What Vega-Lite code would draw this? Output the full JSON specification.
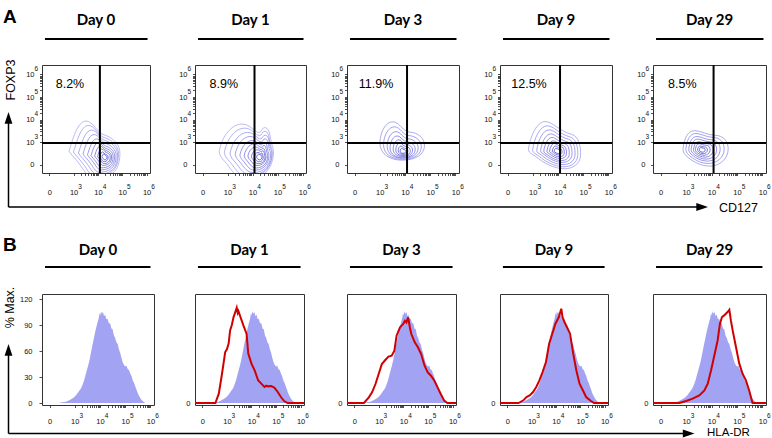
{
  "$schema": "https://vega.github.io/schema/vega-lite/v6.json",
  "background": "white",
  "autosize": {"type": "pad"},
  "padding": {"left": 2, "top": 7, "right": 2, "bottom": 2},
  "columns": 5,
  "spacing": {"row": 118, "column": 41},
  "align": {"row": "all", "column": "none"},
  "bounds": "flush",
  "config": {
    "view": {"stroke": "#333333", "strokeWidth": 1},
    "axis": {"grid": false, "domain": false, "labelFont": "Liberation Sans", "labelFontSize": 7.5, "labelColor": "#111111", "tickColor": "#222222", "tickWidth": 0.8},
    "text": {"font": "Liberation Sans", "color": "black"}
  },
  "datasets": {
    "panels": [
      {"day": "Day 0", "pct": "8.2%"},
      {"day": "Day 1", "pct": "8.9%"},
      {"day": "Day 3", "pct": "11.9%"},
      {"day": "Day 9", "pct": "12.5%"},
      {"day": "Day 29", "pct": "8.5%"}
    ],
    "contours": [
      {"day": "Day 0", "level": 1, "cx": 3.88, "cy": 2.61},
      {"day": "Day 0", "level": 2, "cx": 3.94, "cy": 2.57},
      {"day": "Day 0", "level": 3, "cx": 4.02, "cy": 2.52},
      {"day": "Day 0", "level": 4, "cx": 4.08, "cy": 2.48},
      {"day": "Day 0", "level": 5, "cx": 4.14, "cy": 2.44},
      {"day": "Day 0", "level": 6, "cx": 4.18, "cy": 2.41},
      {"day": "Day 0", "level": 7, "cx": 4.22, "cy": 2.39},
      {"day": "Day 0", "level": 8, "cx": 4.25, "cy": 2.37},
      {"day": "Day 0", "level": 9, "cx": 4.25, "cy": 2.35},
      {"day": "Day 0", "level": 10, "cx": 4.27, "cy": 2.35},
      {"day": "Day 1", "level": 1, "cx": 3.76, "cy": 2.61},
      {"day": "Day 1", "level": 2, "cx": 3.84, "cy": 2.57},
      {"day": "Day 1", "level": 3, "cx": 3.94, "cy": 2.52},
      {"day": "Day 1", "level": 4, "cx": 4.02, "cy": 2.48},
      {"day": "Day 1", "level": 5, "cx": 4.08, "cy": 2.44},
      {"day": "Day 1", "level": 6, "cx": 4.14, "cy": 2.41},
      {"day": "Day 1", "level": 7, "cx": 4.18, "cy": 2.39},
      {"day": "Day 1", "level": 8, "cx": 4.23, "cy": 2.37},
      {"day": "Day 1", "level": 9, "cx": 4.25, "cy": 2.35},
      {"day": "Day 1", "level": 10, "cx": 4.27, "cy": 2.35},
      {"day": "Day 3", "level": 3, "cx": 3.88, "cy": 2.97},
      {"day": "Day 3", "level": 4, "cx": 3.89, "cy": 2.89},
      {"day": "Day 3", "level": 5, "cx": 3.9, "cy": 2.82},
      {"day": "Day 3", "level": 6, "cx": 3.9, "cy": 2.75},
      {"day": "Day 3", "level": 7, "cx": 3.91, "cy": 2.7},
      {"day": "Day 3", "level": 8, "cx": 3.92, "cy": 2.66},
      {"day": "Day 3", "level": 9, "cx": 3.92, "cy": 2.63},
      {"day": "Day 3", "level": 10, "cx": 3.92, "cy": 2.61},
      {"day": "Day 9", "level": 2, "cx": 3.84, "cy": 2.79},
      {"day": "Day 9", "level": 3, "cx": 3.87, "cy": 2.75},
      {"day": "Day 9", "level": 4, "cx": 3.9, "cy": 2.72},
      {"day": "Day 9", "level": 5, "cx": 3.92, "cy": 2.69},
      {"day": "Day 9", "level": 6, "cx": 3.93, "cy": 2.66},
      {"day": "Day 9", "level": 7, "cx": 3.94, "cy": 2.64},
      {"day": "Day 9", "level": 8, "cx": 3.95, "cy": 2.63},
      {"day": "Day 9", "level": 9, "cx": 3.96, "cy": 2.62},
      {"day": "Day 9", "level": 10, "cx": 3.96, "cy": 2.61},
      {"day": "Day 29", "level": 3, "cx": 3.75, "cy": 2.7},
      {"day": "Day 29", "level": 4, "cx": 3.73, "cy": 2.7},
      {"day": "Day 29", "level": 5, "cx": 3.71, "cy": 2.69},
      {"day": "Day 29", "level": 6, "cx": 3.69, "cy": 2.68},
      {"day": "Day 29", "level": 7, "cx": 3.67, "cy": 2.67},
      {"day": "Day 29", "level": 8, "cx": 3.65, "cy": 2.67},
      {"day": "Day 29", "level": 9, "cx": 3.64, "cy": 2.66},
      {"day": "Day 29", "level": 10, "cx": 3.63, "cy": 2.66}
    ],
    "hist": [
      {"series": "Day 0", "x": 2.35, "y": 0}, {"series": "Day 0", "x": 2.5, "y": 0.8}, {"series": "Day 0", "x": 2.65, "y": 1.5}, {"series": "Day 0", "x": 2.8, "y": 3.5},
      {"series": "Day 0", "x": 2.95, "y": 6}, {"series": "Day 0", "x": 3.05, "y": 9}, {"series": "Day 0", "x": 3.15, "y": 13}, {"series": "Day 0", "x": 3.25, "y": 17},
      {"series": "Day 0", "x": 3.32, "y": 22}, {"series": "Day 0", "x": 3.38, "y": 27}, {"series": "Day 0", "x": 3.45, "y": 35}, {"series": "Day 0", "x": 3.52, "y": 42},
      {"series": "Day 0", "x": 3.58, "y": 49}, {"series": "Day 0", "x": 3.64, "y": 58}, {"series": "Day 0", "x": 3.7, "y": 67}, {"series": "Day 0", "x": 3.76, "y": 75},
      {"series": "Day 0", "x": 3.8, "y": 81}, {"series": "Day 0", "x": 3.85, "y": 87}, {"series": "Day 0", "x": 3.9, "y": 93}, {"series": "Day 0", "x": 3.95, "y": 98},
      {"series": "Day 0", "x": 3.98, "y": 104}, {"series": "Day 0", "x": 4.01, "y": 101}, {"series": "Day 0", "x": 4.04, "y": 106}, {"series": "Day 0", "x": 4.08, "y": 103},
      {"series": "Day 0", "x": 4.12, "y": 105}, {"series": "Day 0", "x": 4.16, "y": 100}, {"series": "Day 0", "x": 4.2, "y": 102}, {"series": "Day 0", "x": 4.25, "y": 97},
      {"series": "Day 0", "x": 4.3, "y": 97}, {"series": "Day 0", "x": 4.35, "y": 92}, {"series": "Day 0", "x": 4.4, "y": 92}, {"series": "Day 0", "x": 4.45, "y": 86},
      {"series": "Day 0", "x": 4.5, "y": 85}, {"series": "Day 0", "x": 4.55, "y": 78}, {"series": "Day 0", "x": 4.6, "y": 75}, {"series": "Day 0", "x": 4.65, "y": 70},
      {"series": "Day 0", "x": 4.7, "y": 68}, {"series": "Day 0", "x": 4.75, "y": 62}, {"series": "Day 0", "x": 4.8, "y": 58}, {"series": "Day 0", "x": 4.85, "y": 52},
      {"series": "Day 0", "x": 4.9, "y": 47}, {"series": "Day 0", "x": 4.95, "y": 44}, {"series": "Day 0", "x": 5.0, "y": 42}, {"series": "Day 0", "x": 5.05, "y": 43},
      {"series": "Day 0", "x": 5.1, "y": 39}, {"series": "Day 0", "x": 5.15, "y": 38}, {"series": "Day 0", "x": 5.2, "y": 34}, {"series": "Day 0", "x": 5.25, "y": 31},
      {"series": "Day 0", "x": 5.3, "y": 26}, {"series": "Day 0", "x": 5.35, "y": 23}, {"series": "Day 0", "x": 5.4, "y": 19}, {"series": "Day 0", "x": 5.45, "y": 15},
      {"series": "Day 0", "x": 5.5, "y": 11}, {"series": "Day 0", "x": 5.55, "y": 8}, {"series": "Day 0", "x": 5.6, "y": 5.5}, {"series": "Day 0", "x": 5.65, "y": 3.5},
      {"series": "Day 0", "x": 5.7, "y": 2}, {"series": "Day 0", "x": 5.75, "y": 0.8}, {"series": "Day 0", "x": 5.8, "y": 0},

      {"series": "Day 1", "x": 1.7, "y": 0}, {"series": "Day 1", "x": 2.53, "y": 0}, {"series": "Day 1", "x": 2.67, "y": 10.8}, {"series": "Day 1", "x": 2.8, "y": 33.8},
      {"series": "Day 1", "x": 2.93, "y": 58.8}, {"series": "Day 1", "x": 3.0, "y": 62}, {"series": "Day 1", "x": 3.07, "y": 68.5}, {"series": "Day 1", "x": 3.13, "y": 83.8},
      {"series": "Day 1", "x": 3.2, "y": 90}, {"series": "Day 1", "x": 3.27, "y": 99.2}, {"series": "Day 1", "x": 3.33, "y": 104}, {"series": "Day 1", "x": 3.4, "y": 110},
      {"series": "Day 1", "x": 3.44, "y": 104}, {"series": "Day 1", "x": 3.47, "y": 106}, {"series": "Day 1", "x": 3.53, "y": 101}, {"series": "Day 1", "x": 3.6, "y": 95.4},
      {"series": "Day 1", "x": 3.67, "y": 89.6}, {"series": "Day 1", "x": 3.8, "y": 80}, {"series": "Day 1", "x": 3.87, "y": 57}, {"series": "Day 1", "x": 4.0, "y": 45.4},
      {"series": "Day 1", "x": 4.13, "y": 37.7}, {"series": "Day 1", "x": 4.27, "y": 26.2}, {"series": "Day 1", "x": 4.4, "y": 22.3}, {"series": "Day 1", "x": 4.53, "y": 18.5},
      {"series": "Day 1", "x": 4.6, "y": 20}, {"series": "Day 1", "x": 4.67, "y": 19.2}, {"series": "Day 1", "x": 4.8, "y": 19.5}, {"series": "Day 1", "x": 4.93, "y": 17.7},
      {"series": "Day 1", "x": 5.07, "y": 12.7}, {"series": "Day 1", "x": 5.2, "y": 6.9}, {"series": "Day 1", "x": 5.33, "y": 2.3}, {"series": "Day 1", "x": 5.47, "y": 0},
      {"series": "Day 1", "x": 6.14, "y": 0},

      {"series": "Day 3", "x": 1.7, "y": 0}, {"series": "Day 3", "x": 2.39, "y": 0}, {"series": "Day 3", "x": 2.59, "y": 6.5}, {"series": "Day 3", "x": 2.72, "y": 12.3},
      {"series": "Day 3", "x": 2.86, "y": 21.9}, {"series": "Day 3", "x": 2.99, "y": 33.5}, {"series": "Day 3", "x": 3.12, "y": 45}, {"series": "Day 3", "x": 3.26, "y": 49.6},
      {"series": "Day 3", "x": 3.39, "y": 53.5}, {"series": "Day 3", "x": 3.52, "y": 54.6}, {"series": "Day 3", "x": 3.63, "y": 60.4}, {"series": "Day 3", "x": 3.72, "y": 77.7},
      {"series": "Day 3", "x": 3.86, "y": 87.4}, {"series": "Day 3", "x": 3.99, "y": 91.2}, {"series": "Day 3", "x": 4.06, "y": 95}, {"series": "Day 3", "x": 4.12, "y": 93},
      {"series": "Day 3", "x": 4.19, "y": 98.9}, {"series": "Day 3", "x": 4.26, "y": 87.4}, {"series": "Day 3", "x": 4.32, "y": 79.6}, {"series": "Day 3", "x": 4.46, "y": 70},
      {"series": "Day 3", "x": 4.59, "y": 64.3}, {"series": "Day 3", "x": 4.72, "y": 56.5}, {"series": "Day 3", "x": 4.86, "y": 43}, {"series": "Day 3", "x": 4.99, "y": 35.4},
      {"series": "Day 3", "x": 5.12, "y": 31.5}, {"series": "Day 3", "x": 5.26, "y": 25.7}, {"series": "Day 3", "x": 5.39, "y": 18.1}, {"series": "Day 3", "x": 5.52, "y": 10.4},
      {"series": "Day 3", "x": 5.66, "y": 2.7}, {"series": "Day 3", "x": 5.79, "y": 0}, {"series": "Day 3", "x": 6.14, "y": 0},

      {"series": "Day 9", "x": 1.7, "y": 0}, {"series": "Day 9", "x": 2.46, "y": 0}, {"series": "Day 9", "x": 2.66, "y": 3.1}, {"series": "Day 9", "x": 2.79, "y": 6.9},
      {"series": "Day 9", "x": 2.92, "y": 8.8}, {"series": "Day 9", "x": 3.06, "y": 12.7}, {"series": "Day 9", "x": 3.19, "y": 18.5}, {"series": "Day 9", "x": 3.32, "y": 26.1},
      {"series": "Day 9", "x": 3.45, "y": 35.8}, {"series": "Day 9", "x": 3.59, "y": 47.3}, {"series": "Day 9", "x": 3.72, "y": 68.4}, {"series": "Day 9", "x": 3.85, "y": 80},
      {"series": "Day 9", "x": 3.98, "y": 91.5}, {"series": "Day 9", "x": 4.12, "y": 99.2}, {"series": "Day 9", "x": 4.18, "y": 105}, {"series": "Day 9", "x": 4.22, "y": 108.8},
      {"series": "Day 9", "x": 4.27, "y": 99.2}, {"series": "Day 9", "x": 4.35, "y": 93.5}, {"series": "Day 9", "x": 4.45, "y": 87.7}, {"series": "Day 9", "x": 4.58, "y": 80},
      {"series": "Day 9", "x": 4.71, "y": 56.9}, {"series": "Day 9", "x": 4.84, "y": 37.6}, {"series": "Day 9", "x": 4.97, "y": 22.3}, {"series": "Day 9", "x": 5.11, "y": 14.5},
      {"series": "Day 9", "x": 5.24, "y": 6.9}, {"series": "Day 9", "x": 5.44, "y": 2.3}, {"series": "Day 9", "x": 5.57, "y": 0}, {"series": "Day 9", "x": 6.14, "y": 0},

      {"series": "Day 29", "x": 1.7, "y": 0}, {"series": "Day 29", "x": 2.74, "y": 0}, {"series": "Day 29", "x": 3.0, "y": 2.3}, {"series": "Day 29", "x": 3.26, "y": 5},
      {"series": "Day 29", "x": 3.52, "y": 8.8}, {"series": "Day 29", "x": 3.72, "y": 14.5}, {"series": "Day 29", "x": 3.85, "y": 22.3}, {"series": "Day 29", "x": 3.98, "y": 37.6},
      {"series": "Day 29", "x": 4.11, "y": 54.9}, {"series": "Day 29", "x": 4.24, "y": 72.2}, {"series": "Day 29", "x": 4.33, "y": 91.5}, {"series": "Day 29", "x": 4.41, "y": 99.2},
      {"series": "Day 29", "x": 4.5, "y": 101.1}, {"series": "Day 29", "x": 4.56, "y": 103}, {"series": "Day 29", "x": 4.63, "y": 105}, {"series": "Day 29", "x": 4.7, "y": 107.7},
      {"series": "Day 29", "x": 4.76, "y": 95.3}, {"series": "Day 29", "x": 4.83, "y": 83.8}, {"series": "Day 29", "x": 4.96, "y": 64.6}, {"series": "Day 29", "x": 5.09, "y": 45.4},
      {"series": "Day 29", "x": 5.22, "y": 33.8}, {"series": "Day 29", "x": 5.35, "y": 26.1}, {"series": "Day 29", "x": 5.48, "y": 14.5}, {"series": "Day 29", "x": 5.61, "y": 0},
      {"series": "Day 29", "x": 6.14, "y": 0}
    ]
  },
  "concat": [
    {
      "width": 108, "height": 108,
      "data": {"name": "panels"},
      "transform": [{"filter": "datum.day == 'Day 0'"}],
      "resolve": {"axis": {"x": "independent", "y": "independent"}},
      "layer": [
        {"data": {"name": "contours"}, "transform": [{"filter": "datum.day == 'Day 0'"}],
         "mark": {"type": "point", "shape": "M -0.87 0 C -0.75 -0.35 -0.6 -1 -0.3 -1 C -0.05 -1 0.05 -0.6 0.33 -0.53 C 0.6 -0.45 0.85 -0.2 0.83 0.1 C 0.82 0.4 0.75 0.6 0.6 0.73 C 0.4 0.9 0.15 0.95 -0.07 0.93 C -0.25 0.9 -0.35 0.65 -0.47 0.5 C -0.6 0.3 -0.8 0.12 -0.87 0 Z", "filled": false, "strokeWidth": 0.75, "opacity": 0.9, "clip": true},
         "encoding": {
           "x": {"field": "cx", "type": "quantitative", "scale": {"domain": [1.7, 6.14], "nice": false, "zero": false}, "axis": {"title": null, "values": [2,3,3.301,3.477,3.602,3.699,3.778,3.845,3.903,3.954,4,4.301,4.477,4.602,4.699,4.778,4.845,4.903,4.954,5,5.301,5.477,5.602,5.699,5.778,5.845,5.903,5.954,6], "labelExpr": "datum.value == 2 ? '0' : indexof([3,4,5,6], datum.value) >= 0 ? '10' : ''", "tickSize": 2.5, "labelPadding": 17, "labelBaseline": "middle", "labelFlush": false, "labelOverlap": false}},
           "y": {"field": "cy", "type": "quantitative", "scale": {"domain": [1.64, 6.42], "nice": false, "zero": false}, "axis": {"title": null, "values": [2,3,3.301,3.477,3.602,3.699,3.778,3.845,3.903,3.954,4,4.301,4.477,4.602,4.699,4.778,4.845,4.903,4.954,5,5.301,5.477,5.602,5.699,5.778,5.845,5.903,5.954,6], "labelExpr": "datum.value == 2 ? '0' : indexof([3,4,5,6], datum.value) >= 0 ? '10' : ''", "tickSize": 2.5, "labelPadding": 5.5, "labelBaseline": "middle", "labelFlush": false, "labelOverlap": false}},
           "size": {"field": "level", "type": "quantitative", "scale": {"type": "linear", "domain": [1,2,3,4,5,6,7,8,9,10], "range": [3600,2809,2116,1521,1024,676,400,225,100,36]}, "legend": null},
           "color": {"field": "level", "type": "quantitative", "scale": {"domain": [1, 10], "range": ["#9d9df0", "#2b2bc4"]}, "legend": null}
         }},
        {"mark": {"type": "rule", "color": "black", "strokeWidth": 2},
         "encoding": {"x": {"datum": 4.08, "type": "quantitative", "scale": {"domain": [1.7, 6.14], "nice": false, "zero": false}, "axis": {"title": null, "orient": "bottom", "values": [3,4,5,6], "labelExpr": "format(datum.value, 'd')", "ticks": false, "tickSize": 0, "labelPadding": 13, "labelBaseline": "middle", "labelOffset": 6, "labelFontSize": 6.5, "labelFlush": false, "labelOverlap": false}}}},
        {"mark": {"type": "rule", "color": "black", "strokeWidth": 2},
         "encoding": {"y": {"datum": 2.97, "type": "quantitative", "scale": {"domain": [1.64, 6.42], "nice": false, "zero": false}, "axis": {"title": null, "orient": "left", "values": [3,4,5,6], "labelExpr": "format(datum.value, 'd')", "ticks": false, "tickSize": 0, "labelPadding": 8, "labelAlign": "left", "labelBaseline": "middle", "labelOffset": -6, "labelFontSize": 6.5, "labelFlush": false, "labelOverlap": false}}}},
        {"mark": {"type": "text", "fontSize": 12.5, "align": "center", "baseline": "middle", "clip": false},
         "encoding": {"x": {"datum": 2.85, "type": "quantitative", "scale": {"domain": [1.7, 6.14], "nice": false, "zero": false}, "axis": null}, "y": {"datum": 5.6, "type": "quantitative", "scale": {"domain": [1.64, 6.42], "nice": false, "zero": false}, "axis": null}, "text": {"field": "pct"}}},
        {"mark": {"type": "text", "font": "Lato", "fontWeight": "bold", "fontSize": 15, "align": "center", "baseline": "middle", "clip": false},
         "encoding": {"x": {"datum": 3.92, "type": "quantitative", "scale": {"domain": [1.7, 6.14], "nice": false, "zero": false}, "axis": null}, "y": {"datum": 8.412, "type": "quantitative", "scale": {"domain": [1.64, 6.42], "nice": false, "zero": false}, "axis": null}, "text": {"field": "day"}}},
        {"mark": {"type": "rule", "color": "black", "strokeWidth": 2, "clip": false},
         "encoding": {"x": {"datum": 1.82, "type": "quantitative", "scale": {"domain": [1.7, 6.14], "nice": false, "zero": false}, "axis": null}, "x2": {"datum": 6.04}, "y": {"datum": 7.571, "type": "quantitative", "scale": {"domain": [1.64, 6.42], "nice": false, "zero": false}, "axis": null}}},
        {"mark": {"type": "text", "text": "A", "fontSize": 19, "fontWeight": "bold", "align": "left", "baseline": "top", "clip": false},
         "encoding": {"x": {"datum": 0.097, "type": "quantitative", "scale": {"domain": [1.7, 6.14], "nice": false, "zero": false}, "axis": null}, "y": {"datum": 8.943, "type": "quantitative", "scale": {"domain": [1.64, 6.42], "nice": false, "zero": false}, "axis": null}}},
        {"mark": {"type": "text", "text": "FOXP3", "fontSize": 12.5, "angle": 270, "align": "center", "baseline": "middle", "clip": false},
         "encoding": {"x": {"datum": 0.4255, "type": "quantitative", "scale": {"domain": [1.7, 6.14], "nice": false, "zero": false}, "axis": null}, "y": {"datum": 5.756, "type": "quantitative", "scale": {"domain": [1.64, 6.42], "nice": false, "zero": false}, "axis": null}}},
        {"mark": {"type": "rule", "color": "black", "strokeWidth": 1.5, "clip": false},
         "encoding": {"x": {"datum": 0.3228, "type": "quantitative", "scale": {"domain": [1.7, 6.14], "nice": false, "zero": false}, "axis": null}, "y": {"datum": 0.1352, "type": "quantitative", "scale": {"domain": [1.64, 6.42], "nice": false, "zero": false}, "axis": null}, "y2": {"datum": 4.03}}},
        {"mark": {"type": "rule", "color": "black", "strokeWidth": 1.5, "clip": false},
         "encoding": {"x": {"datum": 0.3228, "type": "quantitative", "scale": {"domain": [1.7, 6.14], "nice": false, "zero": false}, "axis": null}, "x2": {"datum": 28.669}, "y": {"datum": 0.1352, "type": "quantitative", "scale": {"domain": [1.64, 6.42], "nice": false, "zero": false}, "axis": null}}},
        {"mark": {"type": "point", "shape": "M 0 -1 L 0.65 0.95 L -0.65 0.95 Z", "filled": true, "size": 144, "color": "black", "opacity": 1, "clip": false},
         "encoding": {"x": {"datum": 0.3228, "type": "quantitative", "scale": {"domain": [1.7, 6.14], "nice": false, "zero": false}, "axis": null}, "y": {"datum": 4.074, "type": "quantitative", "scale": {"domain": [1.64, 6.42], "nice": false, "zero": false}, "axis": null}}},
        {"mark": {"type": "point", "shape": "M 1 0 L -0.95 -0.65 L -0.95 0.65 Z", "filled": true, "size": 144, "color": "black", "opacity": 1, "clip": false},
         "encoding": {"x": {"datum": 28.834, "type": "quantitative", "scale": {"domain": [1.7, 6.14], "nice": false, "zero": false}, "axis": null}, "y": {"datum": 0.1352, "type": "quantitative", "scale": {"domain": [1.64, 6.42], "nice": false, "zero": false}, "axis": null}}},
        {"mark": {"type": "text", "text": "CD127", "fontSize": 12.5, "align": "left", "baseline": "middle", "clip": false},
         "encoding": {"x": {"datum": 29.533, "type": "quantitative", "scale": {"domain": [1.7, 6.14], "nice": false, "zero": false}, "axis": null}, "y": {"datum": 0.113, "type": "quantitative", "scale": {"domain": [1.64, 6.42], "nice": false, "zero": false}, "axis": null}}}
      ]
    },
    {
      "width": 111, "height": 108,
      "data": {"name": "panels"},
      "transform": [{"filter": "datum.day == 'Day 1'"}],
      "resolve": {"axis": {"x": "independent", "y": "independent"}},
      "layer": [
        {"data": {"name": "contours"}, "transform": [{"filter": "datum.day == 'Day 1'"}],
         "mark": {"type": "point", "shape": "M -0.9 -0.05 C -0.8 -0.5 -0.5 -0.9 -0.15 -0.9 C 0.15 -0.9 0.25 -0.62 0.42 -0.62 C 0.52 -0.62 0.5 -0.8 0.63 -0.78 C 0.8 -0.75 0.78 -0.4 0.85 -0.2 C 0.95 0 0.9 0.4 0.7 0.65 C 0.5 0.9 0.2 0.95 0 0.95 C -0.3 0.95 -0.45 0.7 -0.6 0.5 C -0.75 0.3 -0.95 0.15 -0.9 -0.05 Z", "filled": false, "strokeWidth": 0.75, "opacity": 0.9, "clip": true},
         "encoding": {
           "x": {"field": "cx", "type": "quantitative", "scale": {"domain": [1.7, 6.14], "nice": false, "zero": false}, "axis": {"title": null, "values": [2,3,3.301,3.477,3.602,3.699,3.778,3.845,3.903,3.954,4,4.301,4.477,4.602,4.699,4.778,4.845,4.903,4.954,5,5.301,5.477,5.602,5.699,5.778,5.845,5.903,5.954,6], "labelExpr": "datum.value == 2 ? '0' : indexof([3,4,5,6], datum.value) >= 0 ? '10' : ''", "tickSize": 2.5, "labelPadding": 17, "labelBaseline": "middle", "labelFlush": false, "labelOverlap": false}},
           "y": {"field": "cy", "type": "quantitative", "scale": {"domain": [1.64, 6.42], "nice": false, "zero": false}, "axis": {"title": null, "values": [2,3,3.301,3.477,3.602,3.699,3.778,3.845,3.903,3.954,4,4.301,4.477,4.602,4.699,4.778,4.845,4.903,4.954,5,5.301,5.477,5.602,5.699,5.778,5.845,5.903,5.954,6], "labelExpr": "datum.value == 2 ? '0' : indexof([3,4,5,6], datum.value) >= 0 ? '10' : ''", "tickSize": 2.5, "labelPadding": 5.5, "labelBaseline": "middle", "labelFlush": false, "labelOverlap": false}},
           "size": {"field": "level", "type": "quantitative", "scale": {"type": "linear", "domain": [1,2,3,4,5,6,7,8,9,10], "range": [3600,2809,2116,1521,1024,676,400,225,100,36]}, "legend": null},
           "color": {"field": "level", "type": "quantitative", "scale": {"domain": [1, 10], "range": ["#9d9df0", "#2b2bc4"]}, "legend": null}
         }},
        {"mark": {"type": "rule", "color": "black", "strokeWidth": 2},
         "encoding": {"x": {"datum": 4.08, "type": "quantitative", "scale": {"domain": [1.7, 6.14], "nice": false, "zero": false}, "axis": {"title": null, "orient": "bottom", "values": [3,4,5,6], "labelExpr": "format(datum.value, 'd')", "ticks": false, "tickSize": 0, "labelPadding": 13, "labelBaseline": "middle", "labelOffset": 6, "labelFontSize": 6.5, "labelFlush": false, "labelOverlap": false}}}},
        {"mark": {"type": "rule", "color": "black", "strokeWidth": 2},
         "encoding": {"y": {"datum": 2.97, "type": "quantitative", "scale": {"domain": [1.64, 6.42], "nice": false, "zero": false}, "axis": {"title": null, "orient": "left", "values": [3,4,5,6], "labelExpr": "format(datum.value, 'd')", "ticks": false, "tickSize": 0, "labelPadding": 8, "labelAlign": "left", "labelBaseline": "middle", "labelOffset": -6, "labelFontSize": 6.5, "labelFlush": false, "labelOverlap": false}}}},
        {"mark": {"type": "text", "fontSize": 12.5, "align": "center", "baseline": "middle", "clip": false},
         "encoding": {"x": {"datum": 2.85, "type": "quantitative", "scale": {"domain": [1.7, 6.14], "nice": false, "zero": false}, "axis": null}, "y": {"datum": 5.6, "type": "quantitative", "scale": {"domain": [1.64, 6.42], "nice": false, "zero": false}, "axis": null}, "text": {"field": "pct"}}},
        {"mark": {"type": "text", "font": "Lato", "fontWeight": "bold", "fontSize": 15, "align": "center", "baseline": "middle", "clip": false},
         "encoding": {"x": {"datum": 3.92, "type": "quantitative", "scale": {"domain": [1.7, 6.14], "nice": false, "zero": false}, "axis": null}, "y": {"datum": 8.412, "type": "quantitative", "scale": {"domain": [1.64, 6.42], "nice": false, "zero": false}, "axis": null}, "text": {"field": "day"}}},
        {"mark": {"type": "rule", "color": "black", "strokeWidth": 2, "clip": false},
         "encoding": {"x": {"datum": 1.82, "type": "quantitative", "scale": {"domain": [1.7, 6.14], "nice": false, "zero": false}, "axis": null}, "x2": {"datum": 6.04}, "y": {"datum": 7.571, "type": "quantitative", "scale": {"domain": [1.64, 6.42], "nice": false, "zero": false}, "axis": null}}}
      ]
    },
    {
      "width": 112, "height": 108,
      "data": {"name": "panels"},
      "transform": [{"filter": "datum.day == 'Day 3'"}],
      "resolve": {"axis": {"x": "independent", "y": "independent"}},
      "layer": [
        {"data": {"name": "contours"}, "transform": [{"filter": "datum.day == 'Day 3'"}],
         "mark": {"type": "point", "shape": "M -0.96 0 C -0.95 -0.5 -0.7 -0.92 -0.4 -0.92 C -0.1 -0.92 0 -0.5 0.35 -0.47 C 0.7 -0.45 0.98 -0.2 0.98 0.1 C 0.98 0.5 0.6 0.75 0 0.75 C -0.5 0.75 -0.96 0.5 -0.96 0 Z", "filled": false, "strokeWidth": 0.75, "opacity": 0.9, "clip": true},
         "encoding": {
           "x": {"field": "cx", "type": "quantitative", "scale": {"domain": [1.7, 6.14], "nice": false, "zero": false}, "axis": {"title": null, "values": [2,3,3.301,3.477,3.602,3.699,3.778,3.845,3.903,3.954,4,4.301,4.477,4.602,4.699,4.778,4.845,4.903,4.954,5,5.301,5.477,5.602,5.699,5.778,5.845,5.903,5.954,6], "labelExpr": "datum.value == 2 ? '0' : indexof([3,4,5,6], datum.value) >= 0 ? '10' : ''", "tickSize": 2.5, "labelPadding": 17, "labelBaseline": "middle", "labelFlush": false, "labelOverlap": false}},
           "y": {"field": "cy", "type": "quantitative", "scale": {"domain": [1.64, 6.42], "nice": false, "zero": false}, "axis": {"title": null, "values": [2,3,3.301,3.477,3.602,3.699,3.778,3.845,3.903,3.954,4,4.301,4.477,4.602,4.699,4.778,4.845,4.903,4.954,5,5.301,5.477,5.602,5.699,5.778,5.845,5.903,5.954,6], "labelExpr": "datum.value == 2 ? '0' : indexof([3,4,5,6], datum.value) >= 0 ? '10' : ''", "tickSize": 2.5, "labelPadding": 5.5, "labelBaseline": "middle", "labelFlush": false, "labelOverlap": false}},
           "size": {"field": "level", "type": "quantitative", "scale": {"type": "linear", "domain": [1,2,3,4,5,6,7,8,9,10], "range": [3600,2809,2116,1521,1024,676,400,225,100,36]}, "legend": null},
           "color": {"field": "level", "type": "quantitative", "scale": {"domain": [1, 10], "range": ["#9d9df0", "#2b2bc4"]}, "legend": null}
         }},
        {"mark": {"type": "rule", "color": "black", "strokeWidth": 2},
         "encoding": {"x": {"datum": 4.08, "type": "quantitative", "scale": {"domain": [1.7, 6.14], "nice": false, "zero": false}, "axis": {"title": null, "orient": "bottom", "values": [3,4,5,6], "labelExpr": "format(datum.value, 'd')", "ticks": false, "tickSize": 0, "labelPadding": 13, "labelBaseline": "middle", "labelOffset": 6, "labelFontSize": 6.5, "labelFlush": false, "labelOverlap": false}}}},
        {"mark": {"type": "rule", "color": "black", "strokeWidth": 2},
         "encoding": {"y": {"datum": 2.97, "type": "quantitative", "scale": {"domain": [1.64, 6.42], "nice": false, "zero": false}, "axis": {"title": null, "orient": "left", "values": [3,4,5,6], "labelExpr": "format(datum.value, 'd')", "ticks": false, "tickSize": 0, "labelPadding": 8, "labelAlign": "left", "labelBaseline": "middle", "labelOffset": -6, "labelFontSize": 6.5, "labelFlush": false, "labelOverlap": false}}}},
        {"mark": {"type": "text", "fontSize": 12.5, "align": "center", "baseline": "middle", "clip": false},
         "encoding": {"x": {"datum": 2.85, "type": "quantitative", "scale": {"domain": [1.7, 6.14], "nice": false, "zero": false}, "axis": null}, "y": {"datum": 5.6, "type": "quantitative", "scale": {"domain": [1.64, 6.42], "nice": false, "zero": false}, "axis": null}, "text": {"field": "pct"}}},
        {"mark": {"type": "text", "font": "Lato", "fontWeight": "bold", "fontSize": 15, "align": "center", "baseline": "middle", "clip": false},
         "encoding": {"x": {"datum": 3.92, "type": "quantitative", "scale": {"domain": [1.7, 6.14], "nice": false, "zero": false}, "axis": null}, "y": {"datum": 8.412, "type": "quantitative", "scale": {"domain": [1.64, 6.42], "nice": false, "zero": false}, "axis": null}, "text": {"field": "day"}}},
        {"mark": {"type": "rule", "color": "black", "strokeWidth": 2, "clip": false},
         "encoding": {"x": {"datum": 1.82, "type": "quantitative", "scale": {"domain": [1.7, 6.14], "nice": false, "zero": false}, "axis": null}, "x2": {"datum": 6.04}, "y": {"datum": 7.571, "type": "quantitative", "scale": {"domain": [1.64, 6.42], "nice": false, "zero": false}, "axis": null}}}
      ]
    },
    {
      "width": 112, "height": 108,
      "data": {"name": "panels"},
      "transform": [{"filter": "datum.day == 'Day 9'"}],
      "resolve": {"axis": {"x": "independent", "y": "independent"}},
      "layer": [
        {"data": {"name": "contours"}, "transform": [{"filter": "datum.day == 'Day 9'"}],
         "mark": {"type": "point", "shape": "M -0.96 0.08 C -0.9 -0.4 -0.65 -0.96 -0.33 -0.96 C -0.05 -0.96 0.2 -0.6 0.66 -0.48 C 0.95 -0.4 1.02 0 1 0.33 C 0.98 0.65 0.7 0.82 0.4 0.82 C 0 0.82 -0.4 0.6 -0.7 0.35 C -0.85 0.25 -0.97 0.2 -0.96 0.08 Z", "filled": false, "strokeWidth": 0.75, "opacity": 0.9, "clip": true},
         "encoding": {
           "x": {"field": "cx", "type": "quantitative", "scale": {"domain": [1.7, 6.14], "nice": false, "zero": false}, "axis": {"title": null, "values": [2,3,3.301,3.477,3.602,3.699,3.778,3.845,3.903,3.954,4,4.301,4.477,4.602,4.699,4.778,4.845,4.903,4.954,5,5.301,5.477,5.602,5.699,5.778,5.845,5.903,5.954,6], "labelExpr": "datum.value == 2 ? '0' : indexof([3,4,5,6], datum.value) >= 0 ? '10' : ''", "tickSize": 2.5, "labelPadding": 17, "labelBaseline": "middle", "labelFlush": false, "labelOverlap": false}},
           "y": {"field": "cy", "type": "quantitative", "scale": {"domain": [1.64, 6.42], "nice": false, "zero": false}, "axis": {"title": null, "values": [2,3,3.301,3.477,3.602,3.699,3.778,3.845,3.903,3.954,4,4.301,4.477,4.602,4.699,4.778,4.845,4.903,4.954,5,5.301,5.477,5.602,5.699,5.778,5.845,5.903,5.954,6], "labelExpr": "datum.value == 2 ? '0' : indexof([3,4,5,6], datum.value) >= 0 ? '10' : ''", "tickSize": 2.5, "labelPadding": 5.5, "labelBaseline": "middle", "labelFlush": false, "labelOverlap": false}},
           "size": {"field": "level", "type": "quantitative", "scale": {"type": "linear", "domain": [1,2,3,4,5,6,7,8,9,10], "range": [3600,2809,2116,1521,1024,676,400,225,100,36]}, "legend": null},
           "color": {"field": "level", "type": "quantitative", "scale": {"domain": [1, 10], "range": ["#9d9df0", "#2b2bc4"]}, "legend": null}
         }},
        {"mark": {"type": "rule", "color": "black", "strokeWidth": 2},
         "encoding": {"x": {"datum": 4.08, "type": "quantitative", "scale": {"domain": [1.7, 6.14], "nice": false, "zero": false}, "axis": {"title": null, "orient": "bottom", "values": [3,4,5,6], "labelExpr": "format(datum.value, 'd')", "ticks": false, "tickSize": 0, "labelPadding": 13, "labelBaseline": "middle", "labelOffset": 6, "labelFontSize": 6.5, "labelFlush": false, "labelOverlap": false}}}},
        {"mark": {"type": "rule", "color": "black", "strokeWidth": 2},
         "encoding": {"y": {"datum": 2.97, "type": "quantitative", "scale": {"domain": [1.64, 6.42], "nice": false, "zero": false}, "axis": {"title": null, "orient": "left", "values": [3,4,5,6], "labelExpr": "format(datum.value, 'd')", "ticks": false, "tickSize": 0, "labelPadding": 8, "labelAlign": "left", "labelBaseline": "middle", "labelOffset": -6, "labelFontSize": 6.5, "labelFlush": false, "labelOverlap": false}}}},
        {"mark": {"type": "text", "fontSize": 12.5, "align": "center", "baseline": "middle", "clip": false},
         "encoding": {"x": {"datum": 2.85, "type": "quantitative", "scale": {"domain": [1.7, 6.14], "nice": false, "zero": false}, "axis": null}, "y": {"datum": 5.6, "type": "quantitative", "scale": {"domain": [1.64, 6.42], "nice": false, "zero": false}, "axis": null}, "text": {"field": "pct"}}},
        {"mark": {"type": "text", "font": "Lato", "fontWeight": "bold", "fontSize": 15, "align": "center", "baseline": "middle", "clip": false},
         "encoding": {"x": {"datum": 3.92, "type": "quantitative", "scale": {"domain": [1.7, 6.14], "nice": false, "zero": false}, "axis": null}, "y": {"datum": 8.412, "type": "quantitative", "scale": {"domain": [1.64, 6.42], "nice": false, "zero": false}, "axis": null}, "text": {"field": "day"}}},
        {"mark": {"type": "rule", "color": "black", "strokeWidth": 2, "clip": false},
         "encoding": {"x": {"datum": 1.82, "type": "quantitative", "scale": {"domain": [1.7, 6.14], "nice": false, "zero": false}, "axis": null}, "x2": {"datum": 6.04}, "y": {"datum": 7.571, "type": "quantitative", "scale": {"domain": [1.64, 6.42], "nice": false, "zero": false}, "axis": null}}}
      ]
    },
    {
      "width": 113, "height": 108,
      "data": {"name": "panels"},
      "transform": [{"filter": "datum.day == 'Day 29'"}],
      "resolve": {"axis": {"x": "independent", "y": "independent"}},
      "layer": [
        {"data": {"name": "contours"}, "transform": [{"filter": "datum.day == 'Day 29'"}],
         "mark": {"type": "point", "shape": "M -0.96 -0.04 C -0.9 -0.5 -0.75 -0.8 -0.45 -0.8 C -0.2 -0.8 0.1 -0.6 0.43 -0.6 C 0.8 -0.58 1 -0.35 1 0 C 1 0.45 0.6 0.74 0.2 0.74 C -0.2 0.74 -0.5 0.55 -0.7 0.4 C -0.9 0.25 -0.97 0.15 -0.96 -0.04 Z", "filled": false, "strokeWidth": 0.75, "opacity": 0.9, "clip": true},
         "encoding": {
           "x": {"field": "cx", "type": "quantitative", "scale": {"domain": [1.7, 6.14], "nice": false, "zero": false}, "axis": {"title": null, "values": [2,3,3.301,3.477,3.602,3.699,3.778,3.845,3.903,3.954,4,4.301,4.477,4.602,4.699,4.778,4.845,4.903,4.954,5,5.301,5.477,5.602,5.699,5.778,5.845,5.903,5.954,6], "labelExpr": "datum.value == 2 ? '0' : indexof([3,4,5,6], datum.value) >= 0 ? '10' : ''", "tickSize": 2.5, "labelPadding": 17, "labelBaseline": "middle", "labelFlush": false, "labelOverlap": false}},
           "y": {"field": "cy", "type": "quantitative", "scale": {"domain": [1.64, 6.42], "nice": false, "zero": false}, "axis": {"title": null, "values": [2,3,3.301,3.477,3.602,3.699,3.778,3.845,3.903,3.954,4,4.301,4.477,4.602,4.699,4.778,4.845,4.903,4.954,5,5.301,5.477,5.602,5.699,5.778,5.845,5.903,5.954,6], "labelExpr": "datum.value == 2 ? '0' : indexof([3,4,5,6], datum.value) >= 0 ? '10' : ''", "tickSize": 2.5, "labelPadding": 5.5, "labelBaseline": "middle", "labelFlush": false, "labelOverlap": false}},
           "size": {"field": "level", "type": "quantitative", "scale": {"type": "linear", "domain": [1,2,3,4,5,6,7,8,9,10], "range": [3600,2809,2116,1521,1024,676,400,225,100,36]}, "legend": null},
           "color": {"field": "level", "type": "quantitative", "scale": {"domain": [1, 10], "range": ["#9d9df0", "#2b2bc4"]}, "legend": null}
         }},
        {"mark": {"type": "rule", "color": "black", "strokeWidth": 2},
         "encoding": {"x": {"datum": 4.08, "type": "quantitative", "scale": {"domain": [1.7, 6.14], "nice": false, "zero": false}, "axis": {"title": null, "orient": "bottom", "values": [3,4,5,6], "labelExpr": "format(datum.value, 'd')", "ticks": false, "tickSize": 0, "labelPadding": 13, "labelBaseline": "middle", "labelOffset": 6, "labelFontSize": 6.5, "labelFlush": false, "labelOverlap": false}}}},
        {"mark": {"type": "rule", "color": "black", "strokeWidth": 2},
         "encoding": {"y": {"datum": 2.97, "type": "quantitative", "scale": {"domain": [1.64, 6.42], "nice": false, "zero": false}, "axis": {"title": null, "orient": "left", "values": [3,4,5,6], "labelExpr": "format(datum.value, 'd')", "ticks": false, "tickSize": 0, "labelPadding": 8, "labelAlign": "left", "labelBaseline": "middle", "labelOffset": -6, "labelFontSize": 6.5, "labelFlush": false, "labelOverlap": false}}}},
        {"mark": {"type": "text", "fontSize": 12.5, "align": "center", "baseline": "middle", "clip": false},
         "encoding": {"x": {"datum": 2.85, "type": "quantitative", "scale": {"domain": [1.7, 6.14], "nice": false, "zero": false}, "axis": null}, "y": {"datum": 5.6, "type": "quantitative", "scale": {"domain": [1.64, 6.42], "nice": false, "zero": false}, "axis": null}, "text": {"field": "pct"}}},
        {"mark": {"type": "text", "font": "Lato", "fontWeight": "bold", "fontSize": 15, "align": "center", "baseline": "middle", "clip": false},
         "encoding": {"x": {"datum": 3.92, "type": "quantitative", "scale": {"domain": [1.7, 6.14], "nice": false, "zero": false}, "axis": null}, "y": {"datum": 8.412, "type": "quantitative", "scale": {"domain": [1.64, 6.42], "nice": false, "zero": false}, "axis": null}, "text": {"field": "day"}}},
        {"mark": {"type": "rule", "color": "black", "strokeWidth": 2, "clip": false},
         "encoding": {"x": {"datum": 1.82, "type": "quantitative", "scale": {"domain": [1.7, 6.14], "nice": false, "zero": false}, "axis": null}, "x2": {"datum": 6.04}, "y": {"datum": 7.571, "type": "quantitative", "scale": {"domain": [1.64, 6.42], "nice": false, "zero": false}, "axis": null}}}
      ]
    },
    {
      "width": 112, "height": 111,
      "data": {"name": "panels"},
      "transform": [{"filter": "datum.day == 'Day 0'"}],
      "resolve": {"axis": {"x": "independent", "y": "independent"}},
      "layer": [
        {"data": {"name": "hist"}, "transform": [{"filter": "datum.series == 'Day 0'"}],
         "mark": {"type": "area", "color": "#a3a3f3", "opacity": 1, "clip": true},
         "encoding": {
           "x": {"field": "x", "type": "quantitative", "scale": {"domain": [1.7, 6.14], "nice": false, "zero": false}, "axis": {"title": null, "values": [2,3,3.301,3.477,3.602,3.699,3.778,3.845,3.903,3.954,4,4.301,4.477,4.602,4.699,4.778,4.845,4.903,4.954,5,5.301,5.477,5.602,5.699,5.778,5.845,5.903,5.954,6], "labelExpr": "datum.value == 2 ? '0' : indexof([3,4,5,6], datum.value) >= 0 ? '10' : ''", "tickSize": 2.5, "labelPadding": 14, "labelBaseline": "middle", "labelFlush": false, "labelOverlap": false}},
           "y": {"field": "y", "type": "quantitative", "scale": {"domain": [-2.3, 125.8], "nice": false, "zero": false}, "axis": {"title": null, "values": [0,30,60,90,120], "tickSize": 3, "labelPadding": 7, "labelBaseline": "middle", "labelFlush": false, "labelOverlap": false}}
         }},
        {"mark": {"type": "text", "font": "Lato", "fontWeight": "bold", "fontSize": 15, "align": "center", "baseline": "middle", "clip": false},
         "encoding": {"x": {"datum": 3.92, "type": "quantitative", "scale": {"domain": [1.7, 6.14], "nice": false, "zero": false}, "axis": null}, "y": {"datum": 176.58, "type": "quantitative", "scale": {"domain": [-2.3, 125.8], "nice": false, "zero": false}, "axis": null}, "text": {"field": "day"}}},
        {"mark": {"type": "rule", "color": "black", "strokeWidth": 2, "clip": false},
         "encoding": {"x": {"datum": 1.82, "type": "quantitative", "scale": {"domain": [1.7, 6.14], "nice": false, "zero": false}, "axis": {"title": null, "orient": "bottom", "values": [3,4,5,6], "labelExpr": "format(datum.value, 'd')", "ticks": false, "tickSize": 0, "labelPadding": 10, "labelBaseline": "middle", "labelOffset": 6, "labelFontSize": 6.5, "labelFlush": false, "labelOverlap": false}}, "x2": {"datum": 6.0}, "y": {"datum": 156.96, "type": "quantitative", "scale": {"domain": [-2.3, 125.8], "nice": false, "zero": false}, "axis": null}}},
        {"mark": {"type": "text", "text": "B", "fontSize": 19, "fontWeight": "bold", "align": "left", "baseline": "top", "clip": false},
         "encoding": {"x": {"datum": 0.154, "type": "quantitative", "scale": {"domain": [1.7, 6.14], "nice": false, "zero": false}, "axis": null}, "y": {"datum": 192.74, "type": "quantitative", "scale": {"domain": [-2.3, 125.8], "nice": false, "zero": false}, "axis": null}}},
        {"mark": {"type": "text", "text": "% Max.", "fontSize": 12.5, "angle": 270, "align": "center", "baseline": "middle", "clip": false},
         "encoding": {"x": {"datum": 0.4512, "type": "quantitative", "scale": {"domain": [1.7, 6.14], "nice": false, "zero": false}, "axis": null}, "y": {"datum": 110.22, "type": "quantitative", "scale": {"domain": [-2.3, 125.8], "nice": false, "zero": false}, "axis": null}}},
        {"mark": {"type": "rule", "color": "black", "strokeWidth": 1.5, "clip": false},
         "encoding": {"x": {"datum": 0.372, "type": "quantitative", "scale": {"domain": [1.7, 6.14], "nice": false, "zero": false}, "axis": null}, "y": {"datum": -35.19, "type": "quantitative", "scale": {"domain": [-2.3, 125.8], "nice": false, "zero": false}, "axis": null}, "y2": {"datum": 58.86}}},
        {"mark": {"type": "rule", "color": "black", "strokeWidth": 1.5, "clip": false},
         "encoding": {"x": {"datum": 0.372, "type": "quantitative", "scale": {"domain": [1.7, 6.14], "nice": false, "zero": false}, "axis": null}, "x2": {"datum": 27.151}, "y": {"datum": -35.19, "type": "quantitative", "scale": {"domain": [-2.3, 125.8], "nice": false, "zero": false}, "axis": null}}},
        {"mark": {"type": "point", "shape": "M 0 -1 L 0.65 0.95 L -0.65 0.95 Z", "filled": true, "size": 144, "color": "black", "opacity": 1, "clip": false},
         "encoding": {"x": {"datum": 0.372, "type": "quantitative", "scale": {"domain": [1.7, 6.14], "nice": false, "zero": false}, "axis": null}, "y": {"datum": 61.17, "type": "quantitative", "scale": {"domain": [-2.3, 125.8], "nice": false, "zero": false}, "axis": null}}},
        {"mark": {"type": "point", "shape": "M 1 0 L -0.95 -0.65 L -0.95 0.65 Z", "filled": true, "size": 144, "color": "black", "opacity": 1, "clip": false},
         "encoding": {"x": {"datum": 27.329, "type": "quantitative", "scale": {"domain": [1.7, 6.14], "nice": false, "zero": false}, "axis": null}, "y": {"datum": -35.19, "type": "quantitative", "scale": {"domain": [-2.3, 125.8], "nice": false, "zero": false}, "axis": null}}},
        {"mark": {"type": "text", "text": "HLA-DR", "fontSize": 11.5, "align": "left", "baseline": "middle", "clip": false},
         "encoding": {"x": {"datum": 28.063, "type": "quantitative", "scale": {"domain": [1.7, 6.14], "nice": false, "zero": false}, "axis": null}, "y": {"datum": -34.61, "type": "quantitative", "scale": {"domain": [-2.3, 125.8], "nice": false, "zero": false}, "axis": null}}}
      ]
    },
    {
      "width": 109, "height": 111,
      "data": {"name": "panels"},
      "transform": [{"filter": "datum.day == 'Day 1'"}],
      "resolve": {"axis": {"x": "independent", "y": "independent"}},
      "layer": [
        {"data": {"name": "hist"}, "transform": [{"filter": "datum.series == 'Day 0'"}],
         "mark": {"type": "area", "color": "#a3a3f3", "opacity": 1, "clip": true},
         "encoding": {
           "x": {"field": "x", "type": "quantitative", "scale": {"domain": [1.7, 6.14], "nice": false, "zero": false}, "axis": {"title": null, "values": [2,3,3.301,3.477,3.602,3.699,3.778,3.845,3.903,3.954,4,4.301,4.477,4.602,4.699,4.778,4.845,4.903,4.954,5,5.301,5.477,5.602,5.699,5.778,5.845,5.903,5.954,6], "labelExpr": "datum.value == 2 ? '0' : indexof([3,4,5,6], datum.value) >= 0 ? '10' : ''", "tickSize": 2.5, "labelPadding": 14, "labelBaseline": "middle", "labelFlush": false, "labelOverlap": false}},
           "y": {"field": "y", "type": "quantitative", "scale": {"domain": [-2.3, 125.8], "nice": false, "zero": false}, "axis": {"title": null, "values": [0], "ticks": false, "tickSize": 0, "labelPadding": 5, "labelBaseline": "middle", "labelFlush": false}}
         }},
        {"data": {"name": "hist"}, "transform": [{"filter": "datum.series == 'Day 1'"}],
         "mark": {"type": "line", "color": "#d00000", "strokeWidth": 2, "clip": true},
         "encoding": {"x": {"field": "x", "type": "quantitative", "scale": {"domain": [1.7, 6.14], "nice": false, "zero": false}, "axis": null}, "y": {"field": "y", "type": "quantitative", "scale": {"domain": [-2.3, 125.8], "nice": false, "zero": false}, "axis": null}}},
        {"mark": {"type": "text", "font": "Lato", "fontWeight": "bold", "fontSize": 15, "align": "center", "baseline": "middle", "clip": false},
         "encoding": {"x": {"datum": 3.92, "type": "quantitative", "scale": {"domain": [1.7, 6.14], "nice": false, "zero": false}, "axis": null}, "y": {"datum": 176.58, "type": "quantitative", "scale": {"domain": [-2.3, 125.8], "nice": false, "zero": false}, "axis": null}, "text": {"field": "day"}}},
        {"mark": {"type": "rule", "color": "black", "strokeWidth": 2, "clip": false},
         "encoding": {"x": {"datum": 1.82, "type": "quantitative", "scale": {"domain": [1.7, 6.14], "nice": false, "zero": false}, "axis": {"title": null, "orient": "bottom", "values": [3,4,5,6], "labelExpr": "format(datum.value, 'd')", "ticks": false, "tickSize": 0, "labelPadding": 10, "labelBaseline": "middle", "labelOffset": 6, "labelFontSize": 6.5, "labelFlush": false, "labelOverlap": false}}, "x2": {"datum": 6.0}, "y": {"datum": 156.96, "type": "quantitative", "scale": {"domain": [-2.3, 125.8], "nice": false, "zero": false}, "axis": null}}}
      ]
    },
    {
      "width": 109, "height": 111,
      "data": {"name": "panels"},
      "transform": [{"filter": "datum.day == 'Day 3'"}],
      "resolve": {"axis": {"x": "independent", "y": "independent"}},
      "layer": [
        {"data": {"name": "hist"}, "transform": [{"filter": "datum.series == 'Day 0'"}],
         "mark": {"type": "area", "color": "#a3a3f3", "opacity": 1, "clip": true},
         "encoding": {
           "x": {"field": "x", "type": "quantitative", "scale": {"domain": [1.7, 6.14], "nice": false, "zero": false}, "axis": {"title": null, "values": [2,3,3.301,3.477,3.602,3.699,3.778,3.845,3.903,3.954,4,4.301,4.477,4.602,4.699,4.778,4.845,4.903,4.954,5,5.301,5.477,5.602,5.699,5.778,5.845,5.903,5.954,6], "labelExpr": "datum.value == 2 ? '0' : indexof([3,4,5,6], datum.value) >= 0 ? '10' : ''", "tickSize": 2.5, "labelPadding": 14, "labelBaseline": "middle", "labelFlush": false, "labelOverlap": false}},
           "y": {"field": "y", "type": "quantitative", "scale": {"domain": [-2.3, 125.8], "nice": false, "zero": false}, "axis": {"title": null, "values": [0], "ticks": false, "tickSize": 0, "labelPadding": 5, "labelBaseline": "middle", "labelFlush": false}}
         }},
        {"data": {"name": "hist"}, "transform": [{"filter": "datum.series == 'Day 3'"}],
         "mark": {"type": "line", "color": "#d00000", "strokeWidth": 2, "clip": true},
         "encoding": {"x": {"field": "x", "type": "quantitative", "scale": {"domain": [1.7, 6.14], "nice": false, "zero": false}, "axis": null}, "y": {"field": "y", "type": "quantitative", "scale": {"domain": [-2.3, 125.8], "nice": false, "zero": false}, "axis": null}}},
        {"mark": {"type": "text", "font": "Lato", "fontWeight": "bold", "fontSize": 15, "align": "center", "baseline": "middle", "clip": false},
         "encoding": {"x": {"datum": 3.92, "type": "quantitative", "scale": {"domain": [1.7, 6.14], "nice": false, "zero": false}, "axis": null}, "y": {"datum": 176.58, "type": "quantitative", "scale": {"domain": [-2.3, 125.8], "nice": false, "zero": false}, "axis": null}, "text": {"field": "day"}}},
        {"mark": {"type": "rule", "color": "black", "strokeWidth": 2, "clip": false},
         "encoding": {"x": {"datum": 1.82, "type": "quantitative", "scale": {"domain": [1.7, 6.14], "nice": false, "zero": false}, "axis": {"title": null, "orient": "bottom", "values": [3,4,5,6], "labelExpr": "format(datum.value, 'd')", "ticks": false, "tickSize": 0, "labelPadding": 10, "labelBaseline": "middle", "labelOffset": 6, "labelFontSize": 6.5, "labelFlush": false, "labelOverlap": false}}, "x2": {"datum": 6.0}, "y": {"datum": 156.96, "type": "quantitative", "scale": {"domain": [-2.3, 125.8], "nice": false, "zero": false}, "axis": null}}}
      ]
    },
    {
      "width": 108, "height": 111,
      "data": {"name": "panels"},
      "transform": [{"filter": "datum.day == 'Day 9'"}],
      "resolve": {"axis": {"x": "independent", "y": "independent"}},
      "layer": [
        {"data": {"name": "hist"}, "transform": [{"filter": "datum.series == 'Day 0'"}],
         "mark": {"type": "area", "color": "#a3a3f3", "opacity": 1, "clip": true},
         "encoding": {
           "x": {"field": "x", "type": "quantitative", "scale": {"domain": [1.7, 6.14], "nice": false, "zero": false}, "axis": {"title": null, "values": [2,3,3.301,3.477,3.602,3.699,3.778,3.845,3.903,3.954,4,4.301,4.477,4.602,4.699,4.778,4.845,4.903,4.954,5,5.301,5.477,5.602,5.699,5.778,5.845,5.903,5.954,6], "labelExpr": "datum.value == 2 ? '0' : indexof([3,4,5,6], datum.value) >= 0 ? '10' : ''", "tickSize": 2.5, "labelPadding": 14, "labelBaseline": "middle", "labelFlush": false, "labelOverlap": false}},
           "y": {"field": "y", "type": "quantitative", "scale": {"domain": [-2.3, 125.8], "nice": false, "zero": false}, "axis": {"title": null, "values": [0], "ticks": false, "tickSize": 0, "labelPadding": 5, "labelBaseline": "middle", "labelFlush": false}}
         }},
        {"data": {"name": "hist"}, "transform": [{"filter": "datum.series == 'Day 9'"}],
         "mark": {"type": "line", "color": "#d00000", "strokeWidth": 2, "clip": true},
         "encoding": {"x": {"field": "x", "type": "quantitative", "scale": {"domain": [1.7, 6.14], "nice": false, "zero": false}, "axis": null}, "y": {"field": "y", "type": "quantitative", "scale": {"domain": [-2.3, 125.8], "nice": false, "zero": false}, "axis": null}}},
        {"mark": {"type": "text", "font": "Lato", "fontWeight": "bold", "fontSize": 15, "align": "center", "baseline": "middle", "clip": false},
         "encoding": {"x": {"datum": 3.92, "type": "quantitative", "scale": {"domain": [1.7, 6.14], "nice": false, "zero": false}, "axis": null}, "y": {"datum": 176.58, "type": "quantitative", "scale": {"domain": [-2.3, 125.8], "nice": false, "zero": false}, "axis": null}, "text": {"field": "day"}}},
        {"mark": {"type": "rule", "color": "black", "strokeWidth": 2, "clip": false},
         "encoding": {"x": {"datum": 1.82, "type": "quantitative", "scale": {"domain": [1.7, 6.14], "nice": false, "zero": false}, "axis": {"title": null, "orient": "bottom", "values": [3,4,5,6], "labelExpr": "format(datum.value, 'd')", "ticks": false, "tickSize": 0, "labelPadding": 10, "labelBaseline": "middle", "labelOffset": 6, "labelFontSize": 6.5, "labelFlush": false, "labelOverlap": false}}, "x2": {"datum": 6.0}, "y": {"datum": 156.96, "type": "quantitative", "scale": {"domain": [-2.3, 125.8], "nice": false, "zero": false}, "axis": null}}}
      ]
    },
    {
      "width": 113, "height": 111,
      "data": {"name": "panels"},
      "transform": [{"filter": "datum.day == 'Day 29'"}],
      "resolve": {"axis": {"x": "independent", "y": "independent"}},
      "layer": [
        {"data": {"name": "hist"}, "transform": [{"filter": "datum.series == 'Day 0'"}],
         "mark": {"type": "area", "color": "#a3a3f3", "opacity": 1, "clip": true},
         "encoding": {
           "x": {"field": "x", "type": "quantitative", "scale": {"domain": [1.7, 6.14], "nice": false, "zero": false}, "axis": {"title": null, "values": [2,3,3.301,3.477,3.602,3.699,3.778,3.845,3.903,3.954,4,4.301,4.477,4.602,4.699,4.778,4.845,4.903,4.954,5,5.301,5.477,5.602,5.699,5.778,5.845,5.903,5.954,6], "labelExpr": "datum.value == 2 ? '0' : indexof([3,4,5,6], datum.value) >= 0 ? '10' : ''", "tickSize": 2.5, "labelPadding": 14, "labelBaseline": "middle", "labelFlush": false, "labelOverlap": false}},
           "y": {"field": "y", "type": "quantitative", "scale": {"domain": [-2.3, 125.8], "nice": false, "zero": false}, "axis": {"title": null, "values": [0], "ticks": false, "tickSize": 0, "labelPadding": 5, "labelBaseline": "middle", "labelFlush": false}}
         }},
        {"data": {"name": "hist"}, "transform": [{"filter": "datum.series == 'Day 29'"}],
         "mark": {"type": "line", "color": "#d00000", "strokeWidth": 2, "clip": true},
         "encoding": {"x": {"field": "x", "type": "quantitative", "scale": {"domain": [1.7, 6.14], "nice": false, "zero": false}, "axis": null}, "y": {"field": "y", "type": "quantitative", "scale": {"domain": [-2.3, 125.8], "nice": false, "zero": false}, "axis": null}}},
        {"mark": {"type": "text", "font": "Lato", "fontWeight": "bold", "fontSize": 15, "align": "center", "baseline": "middle", "clip": false},
         "encoding": {"x": {"datum": 3.92, "type": "quantitative", "scale": {"domain": [1.7, 6.14], "nice": false, "zero": false}, "axis": null}, "y": {"datum": 176.58, "type": "quantitative", "scale": {"domain": [-2.3, 125.8], "nice": false, "zero": false}, "axis": null}, "text": {"field": "day"}}},
        {"mark": {"type": "rule", "color": "black", "strokeWidth": 2, "clip": false},
         "encoding": {"x": {"datum": 1.82, "type": "quantitative", "scale": {"domain": [1.7, 6.14], "nice": false, "zero": false}, "axis": {"title": null, "orient": "bottom", "values": [3,4,5,6], "labelExpr": "format(datum.value, 'd')", "ticks": false, "tickSize": 0, "labelPadding": 10, "labelBaseline": "middle", "labelOffset": 6, "labelFontSize": 6.5, "labelFlush": false, "labelOverlap": false}}, "x2": {"datum": 6.0}, "y": {"datum": 156.96, "type": "quantitative", "scale": {"domain": [-2.3, 125.8], "nice": false, "zero": false}, "axis": null}}}
      ]
    }
  ]
}
